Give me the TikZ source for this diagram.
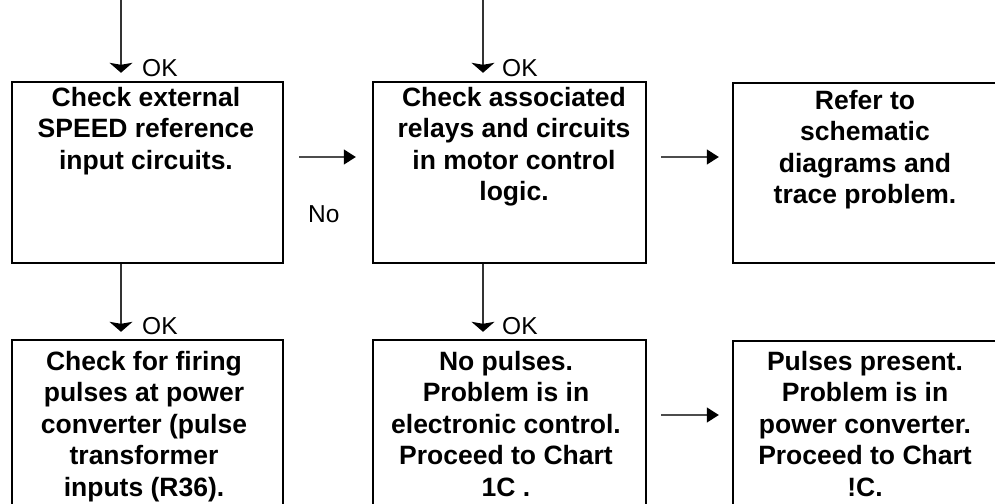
\documentclass[tikz,border=0pt]{standalone}
\usepackage{fontspec}
\setmainfont{Liberation Sans}
\usetikzlibrary{arrows.meta}
\begin{document}
\begin{tikzpicture}[x=1pt,y=-1pt,
  box/.style={draw=black, line width=2.4pt, rectangle, inner sep=0pt,
    minimum height=181pt},
  boxtext/.style={align=center, inner sep=0pt, anchor=north,
    font=\fontsize{26.5}{31.5}\selectfont\bfseries},
  lbl/.style={inner sep=0pt, anchor=base west,
    font=\fontsize{24.5}{28}\selectfont},
  varrow/.style={draw=black!80, line width=1.3pt,
    -{Stealth[length=10pt,width=23pt,inset=2pt,color=black]}},
  harrow/.style={draw=black!70, line width=1.3pt,
    -{Triangle[length=12pt,width=15pt,color=black]}}]

\useasboundingbox (0,0) rectangle (995,503);
\clip (0,0) rectangle (995,503);

% upper row of boxes
\node[box, minimum width=271pt] (b1) at (147.5,172.5) {};
\node[box, minimum width=273pt] (b2) at (509.5,172.5) {};
\node[box, minimum width=280pt, minimum height=180pt] (b3) at (873,173) {};
% lower row of boxes (run past the bottom edge)
\node[box, minimum width=271pt, minimum height=180pt] (b4) at (147.5,430) {};
\node[box, minimum width=273pt, minimum height=180pt] (b5) at (509.5,430) {};
\node[box, minimum width=280pt, minimum height=180pt] (b6) at (873,431) {};

% box texts
\node[boxtext] (t1) at (146,87) {Check external\\SPEED reference\\input circuits.};
\node[boxtext] (t2) at (514,87) {Check associated\\relays and circuits\\in motor control\\logic.};
\node[boxtext] (t3) at (865,90) {Refer to\\schematic\\diagrams and\\trace problem.};
\node[boxtext] (t4) at (144,351) {Check for firing\\pulses at power\\converter (pulse\\transformer\\inputs (R36).};
\node[boxtext] (t5) at (506,351) {No pulses.\\Problem is in\\electronic control.\\Proceed to Chart\\1C .};
\node[boxtext] (t6) at (865,351) {Pulses present.\\Problem is in\\power converter.\\Proceed to Chart\\!C.};

% incoming connectors from above
\coordinate (in1) at (121,0);
\coordinate (in2) at (483,0);
\draw[varrow, shorten >=8pt] (in1) -- (in1 |- b1.north);
\draw[varrow, shorten >=8pt] (in2) -- (in2 |- b2.north);
\node[lbl] (ok1) at (142,76) {OK};
\node[lbl] (ok2) at (502,76) {OK};

% downward connectors between rows
\draw[varrow, shorten >=7pt] (in1 |- b1.south) -- (in1 |- b4.north);
\draw[varrow, shorten >=7pt] (in2 |- b2.south) -- (in2 |- b5.north);
\node[lbl] (ok3) at (142,334) {OK};
\node[lbl] (ok4) at (502,334) {OK};

% sideways connectors
\draw[harrow, shorten <=15pt, shorten >=16pt]
  ([yshift=15.5pt]b1.east) -- ([yshift=15.5pt]b1.east -| b2.west);
\node[lbl] (no) at (308,222) {No};
\draw[harrow, shorten <=14pt, shorten >=13pt]
  ([yshift=15.5pt]b2.east) -- ([yshift=15.5pt]b2.east -| b3.west);
\draw[harrow, shorten <=14pt, shorten >=13pt]
  ([yshift=15pt]b5.east) -- ([yshift=15pt]b5.east -| b6.west);
\end{tikzpicture}
\end{document}
